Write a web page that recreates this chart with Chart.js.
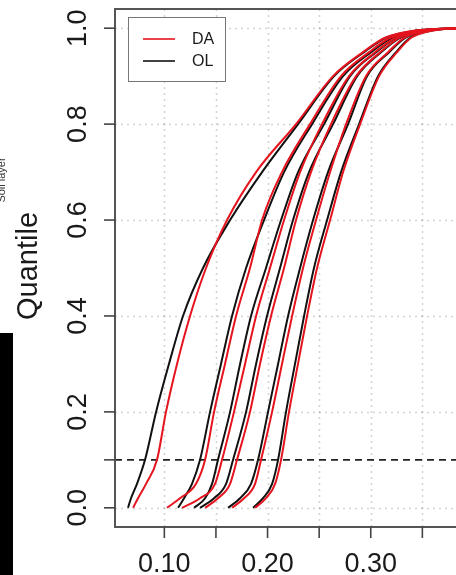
<!DOCTYPE html>
<html>
<head>
<meta charset="utf-8">
<script src="https://cdn.jsdelivr.net/npm/chart.js@4.4.0/dist/chart.umd.min.js"></script>
<style>
  html, body { margin: 0; padding: 0; background: #fff; overflow: hidden; }
  #wrap { width: 480px; height: 575px; }
</style>
</head>
<body>
<div id="wrap"><canvas id="quantChart" width="480" height="575"></canvas></div>
<script>
// ---------- data ----------
const quantiles = [0, 0.02, 0.05, 0.1, 0.2, 0.3, 0.4, 0.5, 0.6, 0.7, 0.8, 0.9, 0.95, 0.98, 0.995, 1.0];

// OL curves (black)
const ol1 = [0.0648, 0.0677, 0.0735, 0.0813, 0.0920, 0.1045, 0.1181, 0.1375, 0.1637, 0.1947, 0.2296, 0.2645, 0.2935, 0.3148, 0.3439, 0.3846];
const ol2 = [0.1133, 0.1191, 0.1268, 0.1346, 0.1443, 0.1549, 0.1656, 0.1792, 0.1966, 0.2160, 0.2431, 0.2732, 0.3003, 0.3207, 0.3468, 0.3846];
const ol3 = [0.1288, 0.1395, 0.1462, 0.1520, 0.1637, 0.1734, 0.1840, 0.1985, 0.2131, 0.2296, 0.2548, 0.2800, 0.3052, 0.3245, 0.3487, 0.3846];
const ol4 = [0.1346, 0.1482, 0.1598, 0.1666, 0.1792, 0.1889, 0.1995, 0.2121, 0.2247, 0.2402, 0.2635, 0.2868, 0.3100, 0.3284, 0.3516, 0.3846];
const ol5 = [0.1617, 0.1734, 0.1840, 0.1908, 0.2005, 0.2102, 0.2199, 0.2315, 0.2441, 0.2586, 0.2780, 0.2964, 0.3178, 0.3333, 0.3555, 0.3846];
const ol6 = [0.1860, 0.1956, 0.2044, 0.2102, 0.2179, 0.2266, 0.2354, 0.2450, 0.2577, 0.2712, 0.2887, 0.3071, 0.3245, 0.3381, 0.3594, 0.3846];

// DA curves (red)
const da1 = [0.0697, 0.0745, 0.0823, 0.0929, 0.1016, 0.1123, 0.1249, 0.1404, 0.1608, 0.1889, 0.2276, 0.2635, 0.2925, 0.3139, 0.3429, 0.3846];
const da2 = [0.1026, 0.1152, 0.1307, 0.1395, 0.1482, 0.1588, 0.1695, 0.1830, 0.1947, 0.2140, 0.2412, 0.2712, 0.2984, 0.3187, 0.3458, 0.3846];
const da3 = [0.1172, 0.1346, 0.1491, 0.1559, 0.1675, 0.1782, 0.1889, 0.2024, 0.2160, 0.2315, 0.2528, 0.2790, 0.3042, 0.3236, 0.3478, 0.3846];
const da4 = [0.1395, 0.1520, 0.1637, 0.1704, 0.1830, 0.1927, 0.2034, 0.2160, 0.2276, 0.2421, 0.2615, 0.2858, 0.3091, 0.3274, 0.3507, 0.3846];
const da5 = [0.1656, 0.1772, 0.1879, 0.1937, 0.2044, 0.2140, 0.2238, 0.2344, 0.2470, 0.2606, 0.2761, 0.2954, 0.3168, 0.3323, 0.3546, 0.3846];
const da6 = [0.1879, 0.1985, 0.2073, 0.2131, 0.2208, 0.2295, 0.2383, 0.2480, 0.2606, 0.2732, 0.2897, 0.3081, 0.3255, 0.3391, 0.3604, 0.3846];

const refQuantile = 0.1;

const xTicks = [0.10, 0.15, 0.20, 0.25, 0.30, 0.35];
const xTickLabels = ["0.10", "", "0.20", "", "0.30", ""];
const yTicks = [0.0, 0.1, 0.2, 0.4, 0.6, 0.8, 1.0];
const yTickLabels = ["0.0", "", "0.2", "0.4", "0.6", "0.8", "1.0"];
const yGrid = [0.0, 0.2, 0.4, 0.6, 0.8, 1.0];

const xMin = 0.0522, xMax = 0.3979;
const yMin = -0.04, yMax = 1.04;

const RED = "#e5141e";
const BLACK = "#111111";
const FONT = "'Liberation Sans', Arial, Helvetica, sans-serif";

// ---------- build datasets ----------
function toPoints(xs) {
    return xs.map((x, i) => ({ x: x, y: quantiles[i] }));
}

const olCurves = [ol1, ol2, ol3, ol4, ol5, ol6];
const daCurves = [da1, da2, da3, da4, da5, da6];
const datasets = [];

daCurves.forEach(xs => {
    datasets.push({
        data: toPoints(xs), borderColor: RED, borderWidth: 2,
        pointRadius: 0, cubicInterpolationMode: "monotone", order: 0
    });
});
olCurves.forEach(xs => {
    datasets.push({
        data: toPoints(xs), borderColor: BLACK, borderWidth: 2,
        pointRadius: 0, cubicInterpolationMode: "monotone", order: 1
    });
});
datasets.push({
    data: [{ x: xMin, y: refQuantile }, { x: xMax, y: refQuantile }],
    borderColor: "#222", borderWidth: 1.6, borderDash: [7, 5],
    pointRadius: 0, order: 2
});

// ---------- R style frame: grid, box, axes, legend ----------
const rFrame = {
    id: "rFrame",
    beforeDatasetsDraw(chart) {
        const { ctx, chartArea: a, scales: { x, y } } = chart;
        ctx.save();
        ctx.strokeStyle = "rgba(0,0,0,0.18)";
        ctx.lineWidth = 1.5;
        ctx.setLineDash([2, 4]);
        xTicks.forEach(v => {
            const px = Math.round(x.getPixelForValue(v)) + 0.5;
            ctx.beginPath(); ctx.moveTo(px, a.top); ctx.lineTo(px, a.bottom); ctx.stroke();
        });
        yGrid.forEach(v => {
            const py = Math.round(y.getPixelForValue(v)) + 0.5;
            ctx.beginPath(); ctx.moveTo(a.left, py); ctx.lineTo(a.right, py); ctx.stroke();
        });
        ctx.restore();
    },
    afterDraw(chart) {
        const { ctx, chartArea: a, scales: { x, y } } = chart;
        ctx.save();

        // plot box
        ctx.strokeStyle = "#555";
        ctx.lineWidth = 2;
        ctx.strokeRect(a.left, a.top, a.right - a.left, a.bottom - a.top);

        // ticks
        ctx.strokeStyle = "#444";
        ctx.lineWidth = 1.6;
        ctx.fillStyle = "#1a1a1a";
        ctx.font = "27px " + FONT;
        xTicks.forEach((v, i) => {
            const px = x.getPixelForValue(v);
            ctx.beginPath(); ctx.moveTo(px, a.bottom); ctx.lineTo(px, a.bottom + 11); ctx.stroke();
            if (xTickLabels[i]) {
                ctx.textAlign = "center";
                ctx.textBaseline = "alphabetic";
                ctx.fillText(xTickLabels[i], px, 572);
            }
        });
        yTicks.forEach((v, i) => {
            const py = y.getPixelForValue(v);
            ctx.beginPath(); ctx.moveTo(a.left, py); ctx.lineTo(a.left - 11, py); ctx.stroke();
            if (yTickLabels[i]) {
                ctx.save();
                ctx.translate(86, py);
                ctx.rotate(-Math.PI / 2);
                ctx.textAlign = "center";
                ctx.textBaseline = "alphabetic";
                ctx.fillText(yTickLabels[i], 0, 0);
                ctx.restore();
            }
        });

        // axis title
        ctx.save();
        ctx.font = "29px " + FONT;
        ctx.translate(37, 266);
        ctx.rotate(-Math.PI / 2);
        ctx.textAlign = "center";
        ctx.fillText("Quantile", 0, 0);
        ctx.restore();

        // cut-off label on the far left
        ctx.save();
        ctx.font = "11px " + FONT;
        ctx.fillStyle = "#333";
        ctx.translate(5, 180);
        ctx.rotate(-Math.PI / 2);
        ctx.textAlign = "center";
        ctx.fillText("Soil layer", 0, 0);
        ctx.restore();

        // black block on the left edge
        ctx.fillStyle = "#000";
        ctx.fillRect(0, 333, 13, 242);

        // legend
        ctx.fillStyle = "#fff";
        ctx.fillRect(128, 17, 97, 65);
        ctx.strokeStyle = "#777";
        ctx.lineWidth = 1;
        ctx.strokeRect(128.5, 17.5, 97, 64);
        const items = [["DA", RED, 39], ["OL", BLACK, 61]];
        ctx.font = "16px " + FONT;
        ctx.textAlign = "left";
        ctx.textBaseline = "middle";
        items.forEach(([label, col, ly]) => {
            ctx.strokeStyle = col;
            ctx.lineWidth = 1.6;
            ctx.beginPath(); ctx.moveTo(143, ly); ctx.lineTo(175, ly); ctx.stroke();
            ctx.fillStyle = "#1a1a1a";
            ctx.fillText(label, 192, ly + 1);
        });

        ctx.restore();
    }
};

new Chart(document.getElementById("quantChart"), {
    type: "line",
    data: { datasets: datasets },
    options: {
        responsive: false,
        animation: false,
        devicePixelRatio: 1,
        layout: { padding: { left: 115, right: 8.2, top: 9, bottom: 48 } },
        plugins: { legend: { display: false }, tooltip: { enabled: false } },
        scales: {
            x: { type: "linear", min: xMin, max: xMax, display: false },
            y: { type: "linear", min: yMin, max: yMax, display: false }
        }
    },
    plugins: [rFrame]
});
</script>
</body>
</html>
